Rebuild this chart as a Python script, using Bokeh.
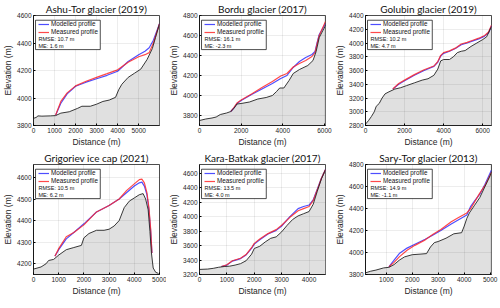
from bokeh.plotting import figure
from bokeh.layouts import gridplot
from bokeh.models import Range1d, FixedTicker, Legend, LegendItem, Label, BoxAnnotation
from bokeh.embed import file_html
from bokeh.resources import INLINE

# ---------------- data ----------------
titles = ["Ashu-Tor glacier (2019)", "Bordu glacier (2017)", "Golubin glacier (2019)",
          "Grigoriev ice cap (2021)", "Kara-Batkak glacier (2017)", "Sary-Tor glacier (2013)"]
rmse = ["RMSE: 10.7 m", "RMSE: 16.1 m", "RMSE: 10.2 m", "RMSE: 10.5 m", "RMSE: 13.5 m", "RMSE: 14.9 m"]
me = ["ME: 1.6 m", "ME: -2.3 m", "ME: 4.7 m", "ME: 6.2 m", "ME: 4.0 m", "ME: -1.1 m"]

x_ranges = [(0, 5990), (0, 6050), (0, 6450), (0, 5000), (0, 4600), (200, 5050)]
y_ranges = [(3800, 4600), (3700, 4800), (2800, 4400), (4150, 4660), (3200, 4720), (3800, 4800)]
x_ticks = [[0, 1000, 2000, 3000, 4000, 5000], [0, 2000, 4000, 6000], [0, 2000, 4000, 6000],
           [0, 1000, 2000, 3000, 4000, 5000], [0, 1000, 2000, 3000, 4000], [1000, 2000, 3000, 4000, 5000]]
y_ticks = [[3800, 4000, 4200, 4400, 4600], [3800, 4000, 4200, 4400, 4600, 4800],
           [2800, 3000, 3200, 3400, 3600, 3800, 4000, 4200, 4400], [4200, 4300, 4400, 4500, 4600],
           [3200, 3400, 3600, 3800, 4000, 4200, 4400, 4600], [3800, 4000, 4200, 4400, 4600, 4800]]

# Ashu-Tor
bed1_x = [0, 150, 200, 400, 800, 1050, 1300, 1700, 2100, 2300, 2700, 3000, 3300, 3600, 3900, 4050,
          4200, 4500, 4800, 5100, 5400, 5650, 5800, 5990]
bed1_y = [3852, 3860, 3870, 3868, 3870, 3872, 3890, 3900, 3925, 3940, 3940, 3955, 3975, 3985, 4005, 4060,
          4100, 4150, 4180, 4210, 4280, 4360, 4440, 4540]
srf1_x = [1050, 1300, 1600, 2000, 2500, 3000, 3500, 4000, 4500, 5000, 5300, 5500, 5700, 5990]
mod1_y = [3875, 3962, 4030, 4085, 4115, 4140, 4165, 4195, 4265, 4315, 4340, 4365, 4420, 4540]
mea1_y = [3875, 3975, 4037, 4088, 4122, 4150, 4177, 4205, 4260, 4300, 4315, 4330, 4400, 4540]

# Bordu
bed2_x = [0, 300, 600, 800, 1000, 1300, 1500, 1650, 1800, 2000, 2400, 2800, 3200, 3500, 3700, 3850,
          4050, 4300, 4500, 4800, 5200, 5450, 5600, 5750, 6050]
bed2_y = [3750, 3765, 3775, 3785, 3810, 3825, 3840, 3870, 3915, 3920, 3935, 3965, 3980, 4000, 4040, 4075,
          4075, 4150, 4220, 4260, 4300, 4350, 4440, 4580, 4700]
srf2_x = [1500, 1650, 1800, 2000, 2500, 3000, 3500, 3900, 4200, 4500, 4800, 5100, 5400, 5550, 5650,
          5750, 6050]
mod2_y = [3840, 3875, 3920, 3950, 4010, 4065, 4120, 4170, 4200, 4280, 4340, 4380, 4410, 4440, 4530,
          4610, 4720]
mea2_y = [3840, 3880, 3925, 3955, 4015, 4080, 4140, 4195, 4220, 4285, 4320, 4350, 4390, 4430, 4520,
          4600, 4740]

# Golubin
bed3_x = [0, 150, 300, 450, 550, 700, 850, 1000, 1200, 1500, 1800, 2100, 2500, 2900, 3200, 3500, 3700,
          3850, 4000, 4300, 4500, 4700, 4900, 5100, 5400, 5700, 6000, 6200, 6450]
bed3_y = [2820, 2870, 2930, 3000, 3080, 3120, 3200, 3260, 3290, 3330, 3350, 3380, 3420, 3460, 3480, 3530,
          3620, 3740, 3760, 3760, 3800, 3860, 3880, 3890, 3950, 4000, 4050, 4090, 4240]
srf3_x = [1400, 1700, 2000, 2500, 3000, 3500, 3700, 3850, 4000, 4300, 4600, 4900, 5200, 5500, 5800,
          6100, 6300, 6450]
mod3_y = [3330, 3400, 3450, 3530, 3600, 3660, 3720, 3810, 3850, 3880, 3920, 3975, 4000, 4030, 4060,
          4100, 4150, 4250]
mea3_y = [3330, 3410, 3460, 3540, 3610, 3665, 3730, 3820, 3860, 3885, 3925, 3985, 4010, 4040, 4070,
          4110, 4160, 4260]

# Grigoriev
bed4_x = [0, 300, 500, 600, 800, 1000, 1300, 1600, 1900, 2000, 2200, 2500, 2800, 3000, 3200, 3400,
          3600, 3800, 4000, 4200, 4350, 4450, 4550, 4620, 4680, 4750, 4850, 4960]
bed4_y = [4175, 4185, 4200, 4215, 4220, 4240, 4265, 4275, 4285, 4320, 4340, 4355, 4355, 4360, 4375, 4400,
          4460, 4490, 4505, 4520, 4525, 4500, 4450, 4350, 4250, 4180, 4160, 4155]
srf4_x = [850, 1000, 1300, 1600, 2000, 2500, 3000, 3400, 3700, 4000, 4200, 4300, 4400, 4500, 4580,
          4650, 4700]
mod4_y = [4235, 4265, 4315, 4345, 4385, 4440, 4470, 4500, 4530, 4560, 4575, 4578, 4560, 4520, 4450,
          4350, 4250]
mea4_y = [4235, 4270, 4325, 4345, 4380, 4440, 4470, 4500, 4540, 4570, 4590, 4592, 4575, 4530, 4460,
          4360, 4250]

# Kara-Batkak
bed5_x = [0, 300, 500, 700, 900, 1100, 1300, 1500, 1700, 1900, 2000, 2200, 2400, 2600, 2800, 3000,
          3200, 3400, 3600, 3800, 4000, 4150, 4300, 4450, 4600]
bed5_y = [3270, 3275, 3285, 3300, 3310, 3315, 3330, 3350, 3390, 3480, 3560, 3590, 3650, 3700, 3720, 3790,
          3880, 3960, 4010, 4040, 4070, 4170, 4350, 4520, 4650]
srf5_x = [800, 1000, 1200, 1500, 1700, 1900, 2000, 2200, 2500, 2800, 3000, 3300, 3600, 3800, 4000,
          4150, 4300, 4450, 4600]
mod5_y = [3310, 3330, 3385, 3420, 3470, 3560, 3620, 3680, 3760, 3810, 3870, 4000, 4110, 4140, 4160,
          4230, 4380, 4530, 4650]
mea5_y = [3310, 3335, 3390, 3425, 3475, 3570, 3630, 3690, 3765, 3820, 3880, 3990, 4080, 4110, 4140,
          4220, 4370, 4530, 4650]

# Sary-Tor
bed6_x = [200, 400, 600, 900, 1100, 1300, 1500, 1700, 2000, 2300, 2550, 2700, 2850, 3000, 3300, 3600,
          3900, 4000, 4100, 4200, 4400, 4600, 4800, 5000, 5050]
bed6_y = [3815, 3830, 3840, 3860, 3865, 3890, 3930, 3960, 3980, 3985, 3990, 4050, 4090, 4100, 4130, 4170,
          4180, 4240, 4310, 4360, 4430, 4500, 4600, 4700, 4730]
srf6_x = [1100, 1300, 1500, 1800, 2100, 2500, 2800, 3100, 3500, 3800, 4100, 4250, 4400, 4600, 4800, 5050]
mod6_y = [3870, 3930, 3990, 4040, 4075, 4120, 4160, 4200, 4260, 4300, 4340, 4420, 4470, 4530, 4620, 4750]
mea6_y = [3870, 3910, 3960, 4020, 4065, 4115, 4165, 4210, 4280, 4320, 4360, 4400, 4460, 4540, 4610, 4730]

beds = [(bed1_x, bed1_y), (bed2_x, bed2_y), (bed3_x, bed3_y), (bed4_x, bed4_y), (bed5_x, bed5_y), (bed6_x, bed6_y)]
surfs = [(srf1_x, mod1_y, mea1_y), (srf2_x, mod2_y, mea2_y), (srf3_x, mod3_y, mea3_y),
         (srf4_x, mod4_y, mea4_y), (srf5_x, mod5_y, mea5_y), (srf6_x, mod6_y, mea6_y)]

# ---------------- style ----------------
FW, FH = 126, 110
TICK_FONT = "Liberation Sans"
TITLE_FONT = "Lato"
BLUE = "#2f2fff"
RED = "#ff2a2a"


def panel(i):
    row2 = i >= 3
    x0, x1 = x_ranges[i]
    y0, y1 = y_ranges[i]
    p = figure(frame_width=FW, frame_height=FH,
               min_border_left=28, min_border_right=7,
               min_border_top=15 if row2 else 14, min_border_bottom=23 if row2 else 20,
               x_range=Range1d(x0, x1), y_range=Range1d(y0, y1),
               output_backend="svg", toolbar_location=None, title=titles[i])
    p.title.text_font = TITLE_FONT
    p.title.text_font_size = "10px"
    p.title.text_font_style = "normal"
    p.title.align = "center"
    p.title.standoff = 1
    p.title.offset = 0
    p.title.text_color = "#111111"

    p.outline_line_color = "black"
    p.outline_line_width = 0.7
    p.background_fill_color = "white"
    p.border_fill_color = "white"

    p.xaxis.ticker = FixedTicker(ticks=x_ticks[i])
    p.yaxis.ticker = FixedTicker(ticks=y_ticks[i])
    for ax in (p.xaxis[0], p.yaxis[0]):
        ax.major_label_text_font = TICK_FONT
        ax.major_label_text_font_size = "6.5px"
        ax.major_label_text_color = "#262626"
        ax.axis_label_text_font = TICK_FONT
        ax.axis_label_text_font_size = "8.5px"
        ax.axis_label_text_font_style = "normal"
        ax.axis_label_text_color = "#262626"
        ax.axis_line_color = "black"
        ax.axis_line_width = 0.7
        ax.major_tick_in = 2
        ax.major_tick_out = 0
        ax.minor_tick_line_color = None
        ax.major_label_standoff = 2
        ax.axis_label_standoff = 1
    p.xaxis.axis_label = "Distance (m)"
    p.yaxis.axis_label = "Elevation (m)"

    for g in (p.xgrid[0], p.ygrid[0]):
        g.grid_line_color = "black"
        g.grid_line_alpha = 0.12
        g.grid_line_width = 0.6
        g.level = "guide"

    bx, by = beds[i]
    p.varea(x=bx, y1=[y0] * len(bx), y2=by, fill_color="#e0e0e0")
    sx, my, ry = surfs[i]
    r_mod = p.line(sx, my, line_color=BLUE, line_width=1.2, line_alpha=0.85)
    r_mea = p.line(sx, ry, line_color=RED, line_width=1.2, line_alpha=0.85)
    p.line(bx, by, line_color="#222222", line_width=0.9)

    def fx(f):
        return x0 + f * (x1 - x0)

    def fy(f):
        return y0 + f * (y1 - y0)

    box = BoxAnnotation(left=fx(0.016), right=fx(0.53), top=fy(0.957), bottom=fy(0.69),
                        fill_color="white", fill_alpha=1.0, line_color="black", line_width=0.7,
                        line_alpha=1.0)
    p.add_layout(box)
    leg = Legend(items=[LegendItem(label="Modelled profile", renderers=[r_mod]),
                        LegendItem(label="Measured profile", renderers=[r_mea])],
                 location="top_left", margin=3, padding=2, spacing=1,
                 glyph_width=11, glyph_height=6, label_height=7, label_standoff=2,
                 label_text_font=TICK_FONT, label_text_font_size="6.3px",
                 label_text_color="#111111",
                 background_fill_alpha=0, border_line_alpha=0)
    p.add_layout(leg)
    for k, t in enumerate((rmse[i], me[i])):
        p.add_layout(Label(x=fx(5 / FW), y=fy(1 - (23 + 7.5 * k) / FH), text=t,
                           text_font=TICK_FONT, text_font_size="5.5px", text_color="#111111",
                           text_baseline="middle", text_align="left"))
    return p


plots = [panel(i) for i in range(6)]
grid = gridplot([plots[0:3], plots[3:6]], toolbar_location=None)

open("out.html", "w").write(file_html(grid, INLINE))
